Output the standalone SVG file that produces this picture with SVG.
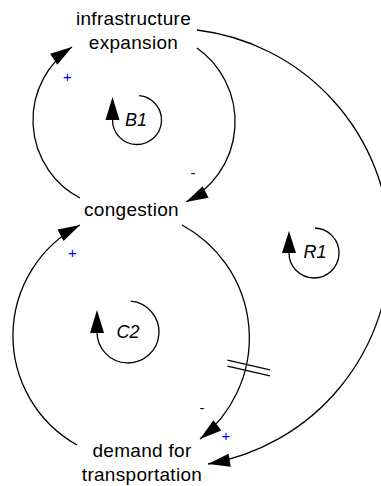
<svg xmlns="http://www.w3.org/2000/svg" width="381" height="486" viewBox="0 0 381 486">
<defs>
<style>
.lbl{font-family:"Liberation Sans",Arial,sans-serif;font-size:19px;fill:#000;text-anchor:middle;letter-spacing:0.3px}
.loop{font-family:"Liberation Sans",Arial,sans-serif;font-size:18px;font-style:italic;fill:#000;text-anchor:middle}
.pos{font-family:"Liberation Sans",Arial,sans-serif;font-size:15px;fill:#0000ff;text-anchor:middle}
.neg{font-family:"Liberation Sans",Arial,sans-serif;font-size:15px;fill:#000;text-anchor:middle}
.link{fill:none;stroke:#000;stroke-width:1.3;marker-end:url(#ah)}
.larc{fill:none;stroke:#000;stroke-width:1.3}
.delay{stroke:#000;stroke-width:1.3}
</style>
<marker id="ah" markerUnits="userSpaceOnUse" viewBox="-23 -8 24 16" refX="0" refY="0" markerWidth="24" markerHeight="16" orient="auto">
<path d="M0,0 L-22,-6.5 L-22,6.5 Z" fill="#000"/>
</marker>
</defs>
<rect width="381" height="486" fill="#fff"/>
<g id="connectors">
<path class="link" d="M80,198 A88,88 0 0 1 72,47"/>
<path class="link" d="M197,48 A90.3,90.3 0 0 1 186,202"/>
<path class="link" d="M197,30 A219.4,219.4 0 0 1 208,464"/>
<path class="link" d="M182,225 A128.3,128.3 0 0 1 200,439"/>
<path class="link" d="M77,445 A125.1,125.1 0 0 1 80,225"/>
<line class="delay" x1="227.5" y1="360.2" x2="270" y2="369.8"/>
<line class="delay" x1="227.5" y1="366.2" x2="270" y2="375.8"/>
<text class="pos" x="67.5" y="81.5">+</text>
<text class="neg" x="193" y="177.5">-</text>
<text class="pos" x="72.5" y="257.5">+</text>
<text class="neg" x="202" y="412.5">-</text>
<text class="pos" x="226" y="440.5">+</text>
</g>
<g id="infrastructure_expansion">
<text class="lbl" x="133.5" y="25">infrastructure</text>
<text class="lbl" x="133.5" y="48.5">expansion</text>
</g>
<g id="congestion">
<text class="lbl" x="131.5" y="216">congestion</text>
</g>
<g id="demand_for_transportation">
<text class="lbl" x="142" y="456.5">demand for</text>
<text class="lbl" x="142" y="480.5">transportation</text>
</g>
<g id="loop_B1">
<path class="larc" d="M139.1,95.6 A24.5,24.5 0 1 1 112.5,120"/>
<polygon points="112.5,97 105.5,120 119.5,120" fill="#000"/>
<text class="loop" x="136" y="125.5">B1</text>
</g>
<g id="loop_R1">
<path class="larc" d="M315,228 A25,25 0 1 1 289,253"/>
<polygon points="289,231 282,253 296,253" fill="#000"/>
<text class="loop" x="315" y="257.5">R1</text>
</g>
<g id="loop_C2">
<path class="larc" d="M130.7,301.1 A31,31 0 1 1 97,332"/>
<polygon points="97,310 90,333 104,333" fill="#000"/>
<text class="loop" x="128" y="337.5">C2</text>
</g>
</svg>
